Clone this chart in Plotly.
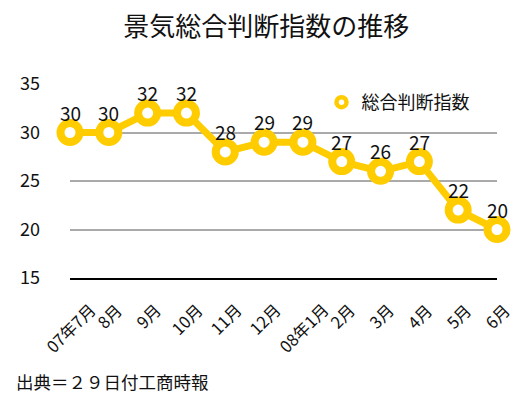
import plotly.graph_objects as go

categories = ["07年7月", "8月", "9月", "10月", "11月", "12月", "08年1月", "2月", "3月", "4月", "5月", "6月"]
values = [30, 30, 32, 32, 28, 29, 29, 27, 26, 27, 22, 20]
series_name = "総合判断指数"
title_text = "景気総合判断指数の推移"
source_text = "出典＝２９日付工商時報"
y_ticks = [15, 20, 25, 30, 35]

FONT = "Noto Sans CJK JP, sans-serif"
YELLOW = "#FFCC00"
xs = list(range(len(categories)))

fig = go.Figure()
fig.add_trace(go.Scatter(
    x=xs, y=values, mode="lines+markers", name=series_name, showlegend=False,
    line=dict(color=YELLOW, width=7),
    marker=dict(symbol="circle", size=19, color="white", line=dict(color=YELLOW, width=8)),
    cliponaxis=False, hoverinfo="skip",
))
# legend-only entry (marker only)
fig.add_trace(go.Scatter(
    x=[None], y=[None], mode="markers", name=series_name, showlegend=True,
    marker=dict(symbol="circle", size=10, color="white", line=dict(color=YELLOW, width=4.5)),
))

annotations = []
# data labels
for xi, v in zip(xs, values):
    annotations.append(dict(x=xi, y=v, xref="x", yref="y", text=str(v), showarrow=False,
                            yanchor="bottom", xanchor="center", yshift=5,
                            font=dict(family=FONT, size=19, color="#111111")))
# rotated category labels, centred under each tick
for xi, c in zip(xs, categories):
    annotations.append(dict(x=xi, y=0, xref="x", yref="paper", text=c, showarrow=False,
                            textangle=-45, xanchor="center", yanchor="top", yshift=-17,
                            font=dict(family=FONT, size=16.5, color="#111111")))
annotations.append(dict(text=source_text, xref="paper", yref="paper", x=-0.13, y=-0.535,
                        xanchor="left", yanchor="middle", showarrow=False,
                        font=dict(family=FONT, size=17.5, color="#111111")))

fig.update_layout(
    width=527, height=396,
    margin=dict(l=70, r=30, t=84, b=118),
    paper_bgcolor="white", plot_bgcolor="white",
    title=dict(text=title_text, x=0.505, xanchor="center", y=0.932, yanchor="middle",
               font=dict(family=FONT, size=26, color="#111111")),
    showlegend=True,
    legend=dict(x=0.589, y=1.0, xanchor="left", yanchor="top", bgcolor="rgba(0,0,0,0)",
                font=dict(family=FONT, size=18, color="#111111"), itemsizing="trace"),
    xaxis=dict(
        range=[0, len(categories) - 1], automargin=False,
        tickmode="array", tickvals=xs, showticklabels=False,
        showgrid=False, showline=True, linecolor="black", linewidth=2,
        zeroline=False, ticks="",
    ),
    yaxis=dict(
        range=[15, 35], tickmode="array", tickvals=y_ticks, automargin=False,
        showgrid=True, gridcolor="#AAAAAA", gridwidth=2, zeroline=False,
        showline=False, ticks="", ticklabelstandoff=29,
        tickfont=dict(family=FONT, size=18, color="#111111"),
    ),
    annotations=annotations,
    hovermode=False,
)

fig.write_html("out.html", config={"displayModeBar": False},
               post_script="document.body.style.margin='0';")
